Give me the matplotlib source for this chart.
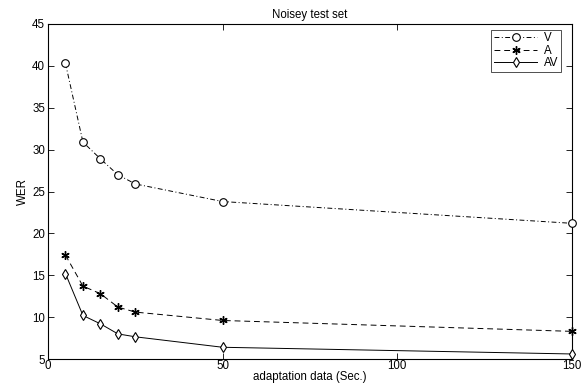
import matplotlib
matplotlib.use("Agg")
import matplotlib.pyplot as plt

plt.rcParams['font.family'] = ['Liberation Sans', 'DejaVu Sans']

x = [5, 10, 15, 20, 25, 50, 150]
wer_v = [40.3, 30.9, 28.9, 27.0, 25.9, 23.8, 21.2]
wer_a = [17.4, 13.7, 12.8, 11.2, 10.6, 9.6, 8.3]
wer_av = [15.2, 10.2, 9.2, 8.0, 7.65, 6.4, 5.6]
xticks = [0, 50, 100, 150]
yticks = [5, 10, 15, 20, 25, 30, 35, 40, 45]

fig = plt.figure(figsize=(5.86, 3.85), dpi=100)
ax = fig.add_axes([48/586, 26/385, (572-48)/586, (359-24)/385])

ax.plot(x, wer_v, color='black', linestyle=(0, (5, 2.5, 1, 2.5)), linewidth=0.7, marker='o',
        markersize=5.5, markerfacecolor='white', markeredgewidth=0.8, label='V',
        clip_on=False, zorder=3)
ax.plot(x, wer_a, color='black', linestyle=(0, (6, 4)), linewidth=0.7, marker=(6, 2, 0),
        markersize=6, markerfacecolor='black', markeredgewidth=1.0, label='A',
        clip_on=False, zorder=3)
ax.plot(x, wer_av, color='black', linestyle='-', linewidth=0.7, marker='d',
        markersize=5.5, markerfacecolor='white', markeredgewidth=0.8, label='AV',
        clip_on=False, zorder=3)

ax.set_xlim(0, 150)
ax.set_ylim(5, 45)
ax.set_xticks(xticks)
ax.set_yticks(yticks)
ax.tick_params(direction='in', top=True, right=True, labelsize=8.3, length=4, width=0.6, pad=2)
ax.tick_params(axis='x', pad=1)
for s in ax.spines.values():
    s.set_linewidth(0.8)

ax.set_title('Noisey test set', fontsize=8.3, pad=4)
ax.set_xlabel('adaptation data (Sec.)', fontsize=8.3, labelpad=-1)
ax.set_ylabel('WER', fontsize=8.3, labelpad=2)

leg = ax.legend(loc='upper right', bbox_to_anchor=(1 - 11/524, 1 - 6/335), borderaxespad=0,
                fontsize=8.3, frameon=True, fancybox=False,
                edgecolor='black', handlelength=3.8, borderpad=0.2, labelspacing=0.05,
                handletextpad=0.6)
leg.get_frame().set_linewidth(0.6)

fig.savefig('out.png', dpi=100)
